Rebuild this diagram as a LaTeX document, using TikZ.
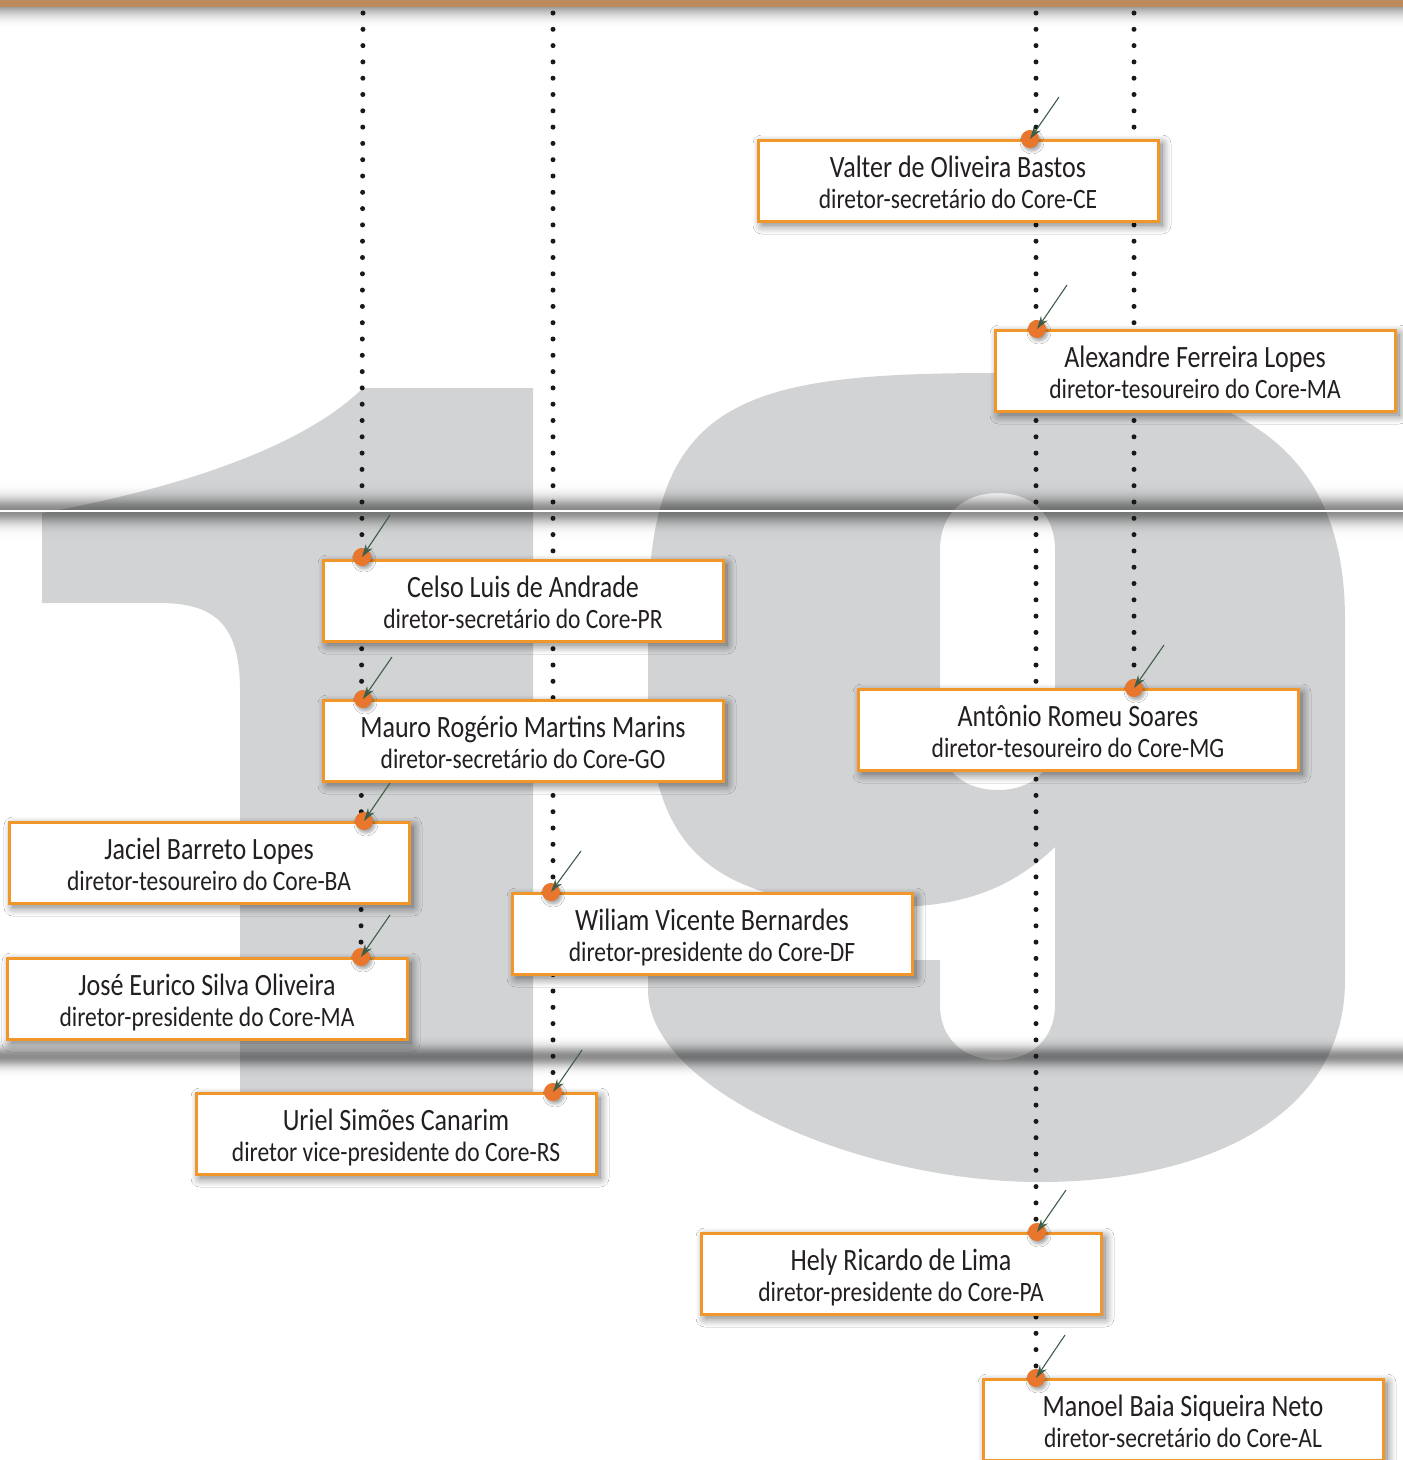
\documentclass[tikz,border=0pt]{standalone}
\usepackage{fontspec}
\setmainfont{Carlito}[FakeStretch=0.84]
\usetikzlibrary{arrows.meta,shadows.blur,calc}
\definecolor{barc}{HTML}{BD8A5C}
\definecolor{glyph}{HTML}{D1D3D4}
\definecolor{framec}{HTML}{F0962A}
\definecolor{pinc}{HTML}{E8762C}
\definecolor{arrc}{HTML}{3F5E49}
\definecolor{txt}{HTML}{231F20}
\tikzset{
  card/.style={draw=framec, line width=3pt, fill=white, minimum height=81pt, inner sep=0pt, outer sep=0pt,
    blur shadow={shadow xshift=4pt, shadow yshift=-4pt, shadow blur steps=12, shadow opacity=55, shadow blur radius=9pt}},
  nm/.style={font=\fontsize{31}{33}\selectfont, text=txt, inner sep=0pt},
  rl/.style={font=\fontsize{28}{30}\selectfont, text=txt, inner sep=0pt},
  dotpin/.style={circle, fill=pinc, minimum size=18pt, inner sep=0pt,
    blur shadow={shadow xshift=2pt, shadow yshift=-3pt, shadow blur steps=5, shadow opacity=35, shadow blur radius=3pt}},
  arrowst/.style={draw=arrc, line width=1.1pt, -{Stealth[length=13pt, width=8pt]}},
  dotline/.style={draw=black!90, line width=5pt, line cap=round, dash pattern=on 0pt off 16.3pt}
}
\newcommand\carta[6]{%
  \node[card, minimum width=#4pt, anchor=north west] (#1) at (#2,#3) {};
  \node[nm, anchor=base] (#1-n) at ($(#1.north)+(0,37)$) {#5};
  \node[rl, anchor=base] (#1-r) at ($(#1.north)+(0,68)$) {#6};
}
\begin{document}
\begin{tikzpicture}[x=1pt,y=-1pt]
\useasboundingbox (0,0) rectangle (1403,1460);
\fill[white] (0,0) rectangle (1403,1460);
% glyph "1"
\fill[glyph] (363,388) -- (533,388) -- (533,1150) -- (240,1150) -- (240,690)
  .. controls (240,625) and (215,603) .. (160,603) -- (42,603) -- (42,513)
  .. controls (170,490) and (300,450) .. (363,388) -- cycle;
% glyph "9"
\fill[glyph, even odd rule]
  (995,373) .. controls (1230,373) and (1345,440) .. (1345,620)
  -- (1345,980)
  .. controls (1345,1120) and (1200,1182) .. (1040,1182)
  .. controls (860,1182) and (648,1090) .. (648,990)
  -- (648,960) -- (940,960) -- (940,1005)
  .. controls (940,1040) and (965,1060) .. (998,1060)
  .. controls (1030,1060) and (1055,1040) .. (1055,1005)
  -- (1055,847)
  .. controls (1010,890) and (960,907) .. (890,907)
  .. controls (700,907) and (648,840) .. (648,690)
  -- (648,620)
  .. controls (648,400) and (740,373) .. (995,373) -- cycle
  (940,550) .. controls (940,512) and (965,493) .. (998,493)
  .. controls (1030,493) and (1055,512) .. (1055,550) -- (1055,735)
  .. controls (1055,772) and (1030,790) .. (998,790)
  .. controls (965,790) and (940,772) .. (940,735) -- cycle;
% top bar and its shadow
\foreach \i in {0,...,20}{
  \pgfmathsetmacro\op{0.38*(1-\i/21)*(1-\i/21)}
  \fill[black, opacity=\op] (0,7+\i) rectangle (1403,8+\i);
}
\fill[barc] (0,0) rectangle (1403,7);
% bands
\foreach \i in {-28,...,28}{
  \pgfmathsetmacro\op{0.46*exp(-(\i*\i)/162)}
  \fill[black, opacity=\op] (0,510+\i-0.5) rectangle (1403,510+\i+0.5);
}
\draw[white, line width=1.5pt] (0,511) -- (1403,511);
\foreach \i in {-20,...,20}{
  \pgfmathsetmacro\op{0.45*exp(-(\i*\i)/98)}
  \fill[black, opacity=\op] (0,1056+\i-0.5) rectangle (1403,1056+\i+0.5);
}
% pin positions
\coordinate (c1) at (1030,139);
\coordinate (c2) at (1037,329);
\coordinate (c3) at (362,557);
\coordinate (c4) at (363,699);
\coordinate (c5) at (364,821);
\coordinate (c6) at (361,957);
\coordinate (c7) at (1134,688);
\coordinate (c8) at (551,892);
\coordinate (c9) at (553,1092);
\coordinate (c10) at (1037,1232);
\coordinate (c11) at (1036,1378);
% dotted lines
\coordinate (t1) at (363,13);
\coordinate (t2) at (553,13);
\coordinate (t3) at (1036,13);
\coordinate (t4) at (1134,13);
\draw[dotline] (t1) -- (c6);
\draw[dotline] (t2) -- (c9);
\draw[dotline] (t3) -- (c11);
\draw[dotline] (t4) -- (c7);
% cards
\carta{valter}{758}{140}{400}{Valter de Oliveira Bastos}{diretor-secretário do Core-CE}
\carta{alex}{995}{330}{400}{Alexandre Ferreira Lopes}{diretor-tesoureiro do Core-MA}
\carta{celso}{323}{560}{400}{Celso Luis de Andrade}{diretor-secretário do Core-PR}
\carta{mauro}{323}{700}{400}{Mauro Rogério Martins Marins}{diretor-secretário do Core-GO}
\carta{jaciel}{9}{822}{400}{Jaciel Barreto Lopes}{diretor-tesoureiro do Core-BA}
\carta{jose}{7}{958}{400}{José Eurico Silva Oliveira}{diretor-presidente do Core-MA}
\carta{antonio}{858}{689}{440}{Antônio Romeu Soares}{diretor-tesoureiro do Core-MG}
\carta{wiliam}{512}{893}{400}{Wiliam Vicente Bernardes}{diretor-presidente do Core-DF}
\carta{uriel}{196}{1093}{400}{Uriel Simões Canarim}{diretor vice-presidente do Core-RS}
\carta{hely}{701}{1233}{400}{Hely Ricardo de Lima}{diretor-presidente do Core-PA}
\carta{manoel}{983}{1379}{400}{Manoel Baia Siqueira Neto}{diretor-secretário do Core-AL}
% pins and arrows
\foreach \k/\ax/\ay in {1/1059/97, 2/1067/285, 3/390/515, 4/392/657, 5/390/783, 6/390/915,
  7/1164/645, 8/581/851, 9/582/1050, 10/1066/1190, 11/1065/1335}{
  \node[dotpin] (p\k) at (c\k) {};
  \coordinate (a\k) at (\ax,\ay);
  \draw[arrowst] (a\k) -- (p\k.center);
}
\end{tikzpicture}
\end{document}
